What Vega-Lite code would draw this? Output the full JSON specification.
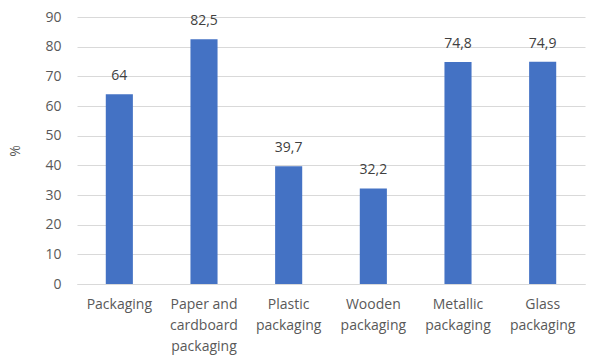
{
  "$schema": "https://vega.github.io/schema/vega-lite/v6.json",
  "width": 508,
  "height": 267,
  "autosize": {"type": "none"},
  "padding": {"left": 77, "top": 17, "right": 6, "bottom": 74},
  "background": "white",
  "config": {
    "view": {"stroke": null},
    "locale": {"number": {"decimal": ",", "thousands": ".", "grouping": [3], "currency": ["", " €"]}},
    "font": "Open Sans"
  },
  "data": {
    "values": [
      {"category": "Packaging", "value": 64},
      {"category": "Paper and|cardboard|packaging", "value": 82.5},
      {"category": "Plastic|packaging", "value": 39.7},
      {"category": "Wooden|packaging", "value": 32.2},
      {"category": "Metallic|packaging", "value": 74.8},
      {"category": "Glass|packaging", "value": 74.9}
    ]
  },
  "encoding": {
    "x": {
      "field": "category",
      "type": "nominal",
      "sort": null,
      "scale": {"paddingInner": 0.68, "paddingOuter": 0.34},
      "axis": {
        "title": null,
        "labelAngle": 0,
        "labelExpr": "split(datum.value, '|')",
        "labelFontSize": 14,
        "labelColor": "#595959",
        "labelPadding": 13,
        "labelLineHeight": 21,
        "labelBaseline": "top",
        "ticks": false,
        "domainColor": "#d9d9d9",
        "domainWidth": 1
      }
    },
    "y": {
      "field": "value",
      "type": "quantitative",
      "scale": {"domain": [0, 90], "nice": false},
      "axis": {
        "title": "%",
        "titleFontSize": 14,
        "titleFontWeight": "normal",
        "titleColor": "#595959",
        "titlePadding": 22,
        "values": [0, 10, 20, 30, 40, 50, 60, 70, 80, 90],
        "labelFontSize": 14,
        "labelColor": "#595959",
        "labelPadding": 16,
        "ticks": false,
        "domain": false,
        "gridColor": "#d9d9d9",
        "gridWidth": 1
      }
    }
  },
  "layer": [
    {"mark": {"type": "bar", "color": "#4472c4"}},
    {
      "mark": {"type": "text", "baseline": "bottom", "dy": -11, "fontSize": 14, "color": "#404040"},
      "encoding": {"text": {"field": "value", "type": "quantitative", "format": ".1~f"}}
    }
  ]
}
